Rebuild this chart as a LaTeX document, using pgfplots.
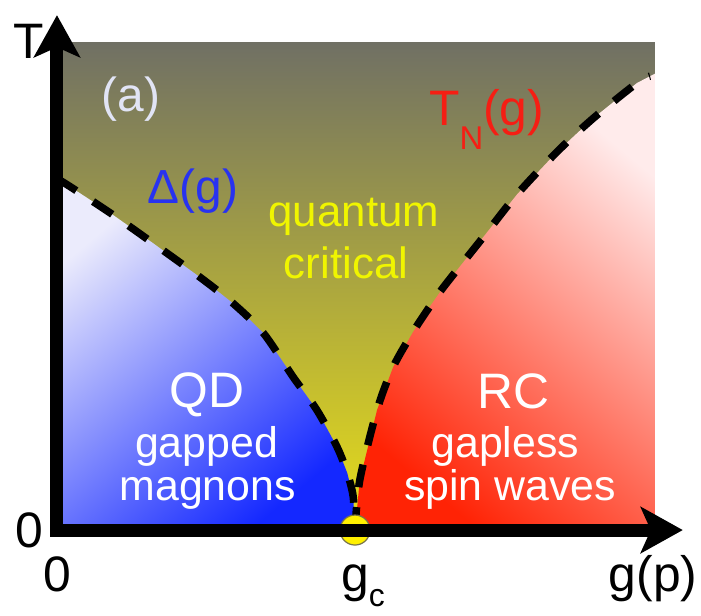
\documentclass[border=0pt]{standalone}
\usepackage{fontspec}
\setmainfont{Liberation Sans}
\usepackage{pgfplots}
\pgfplotsset{compat=1.18}
\usetikzlibrary{arrows.meta}
\definecolor{qcTop}{RGB}{112,112,100}
\definecolor{qcMid}{RGB}{180,174,82}
\definecolor{qcBot}{RGB}{232,222,25}
\definecolor{qdLight}{RGB}{235,235,252}
\definecolor{qdDark}{RGB}{20,40,255}
\definecolor{rcLight}{RGB}{255,235,235}
\definecolor{rcDark}{RGB}{255,35,5}
\definecolor{deltaBlue}{RGB}{40,50,240}
\definecolor{tnRed}{RGB}{245,30,20}
\definecolor{qcYellow}{RGB}{240,245,0}
\definecolor{labA}{RGB}{225,228,245}
\definecolor{dotYellow}{RGB}{255,240,0}
\pgfplotstableread{
g T
0.000 0.717
0.010 0.713
0.089 0.650
0.161 0.588
0.240 0.518
0.295 0.465
0.346 0.404
0.396 0.314
0.436 0.246
0.470 0.170
0.487 0.117
0.497 0.068
0.500 0.000
}\deltaline
\pgfplotstableread{
g T
0.500 0.000
0.508 0.102
0.537 0.246
0.564 0.334
0.597 0.405
0.621 0.450
0.648 0.497
0.715 0.600
0.772 0.688
0.839 0.775
0.899 0.843
0.973 0.916
0.995 0.930
1.003 0.935
}\tnline
\begin{document}
\begin{tikzpicture}
\begin{axis}[
  x=596bp, y=488bp,
  xmin=0, xmax=1.05, ymin=0, ymax=1.055,
  axis lines=left,
  axis line style={line width=13bp, line cap=rect},
  every outer x axis line/.append style={-{Stealth[length=42bp,width=46bp,inset=10bp]}},
  every outer y axis line/.append style={-{Stealth[length=42bp,width=46bp,inset=10bp]}},
  xtick={0,0.5,1.0},
  xticklabels={0,{g\rlap{\raisebox{-15bp}{\fontsize{32}{32}\selectfont c}}},g(p)},
  ytick={0}, yticklabels={0},
  major tick length=0pt,
  xticklabel style={anchor=base, inner sep=0pt, yshift=-61bp, font=\fontsize{50}{50}\selectfont},
  yticklabel style={anchor=base east, inner sep=0pt, xshift=-14bp, yshift=-17bp, font=\fontsize{50}{50}\selectfont},
  /pgf/number format/assume math mode=true,
  clip=false,
  set layers, axis on top,
]
% background (quantum critical + high T)
\addplot[draw=none, shading=axis, top color=qcTop, middle color=qcMid, bottom color=qcBot]
  coordinates {(0,1) (1.003,1)} \closedcycle;
% QD region
\addplot[draw=none, shading=axis, top color=qdLight, bottom color=qdDark, shading angle=40]
  table[x=g,y=T] {\deltaline} \closedcycle;
% RC region
\addplot[draw=none, shading=axis, top color=rcLight, bottom color=rcDark, shading angle=-40]
  table[x=g,y=T] {\tnline} \closedcycle;
% dashed crossover lines
\addplot[black, line width=7.5bp, dash pattern=on 23bp off 20bp, smooth, tension=0.5]
  table[x=g,y=T] {\deltaline};
\addplot[black, line width=7.5bp, dash pattern=on 23bp off 20bp, smooth, tension=0.5]
  table[x=g,y=T, restrict x to domain=0.5:1.0] {\tnline};
% critical point
\addplot[on layer=axis foreground, only marks, mark=*, mark size=15bp,
  mark options={fill=dotYellow, draw=black!60!yellow, line width=1.2bp}]
  coordinates {(0.5,0)};
% labels
\node[anchor=base, inner sep=0pt, font=\fontsize{50}{50}\selectfont] at (axis cs:-0.048,0.967) {T};
\node[anchor=base, inner sep=0pt, text=labA, font=\fontsize{48}{48}\selectfont] at (axis cs:0.124,0.857) {(a)};
\node[anchor=base, inner sep=0pt, text=deltaBlue, font=\fontsize{48}{48}\selectfont] at (axis cs:0.228,0.670) {Δ(g)};
\node[anchor=base west, inner sep=0pt, text=tnRed, font=\fontsize{50}{50}\selectfont] at (axis cs:0.624,0.828) {T\raisebox{-24bp}{\fontsize{33}{33}\selectfont N}(g)};
\node[anchor=base, inner sep=0pt, text=qcYellow, font=\fontsize{44}{44}\selectfont] at (axis cs:0.498,0.623) {quantum};
\node[anchor=base, inner sep=0pt, text=qcYellow, font=\fontsize{44}{44}\selectfont] at (axis cs:0.485,0.516) {critical};
\node[anchor=base, inner sep=0pt, text=white, font=\fontsize{50}{50}\selectfont] at (axis cs:0.252,0.252) {QD};
\node[anchor=base, inner sep=0pt, text=white, font=\fontsize{43}{43}\selectfont] at (axis cs:0.251,0.148) {gapped};
\node[anchor=base, inner sep=0pt, text=white, font=\fontsize{43}{43}\selectfont] at (axis cs:0.253,0.0615) {magnons};
\node[anchor=base, inner sep=0pt, text=white, font=\fontsize{50}{50}\selectfont] at (axis cs:0.766,0.250) {RC};
\node[anchor=base, inner sep=0pt, text=white, font=\fontsize{43}{43}\selectfont] at (axis cs:0.752,0.148) {gapless};
\node[anchor=base, inner sep=0pt, text=white, font=\fontsize{43}{43}\selectfont] at (axis cs:0.760,0.0615) {spin waves};
% fix the page extent to the reference frame
\path (axis cs:-0.0956,-0.1742) rectangle (axis cs:1.0805,1.0861);
\end{axis}
\end{tikzpicture}
\end{document}
